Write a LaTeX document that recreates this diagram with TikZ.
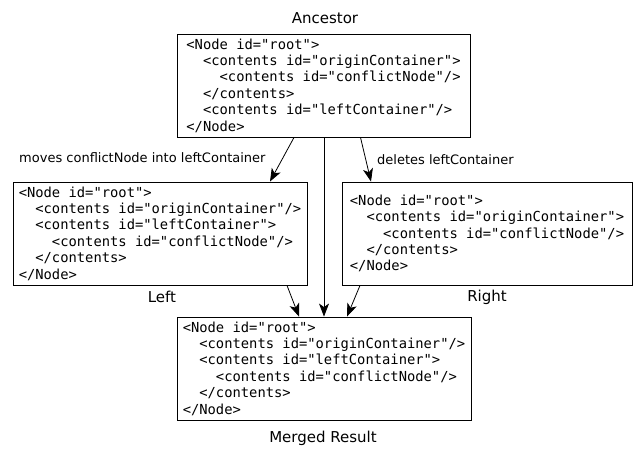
\documentclass[tikz,border=0pt]{standalone}
\usepackage{fontspec}
\setmainfont{DejaVu Sans}
\newfontfamily\codefont{DejaVu Sans Mono}
\usetikzlibrary{arrows.meta,calc}
\newcommand{\ind}{\phantom{xx}}
\begin{document}
\begin{tikzpicture}[x=1pt,y=1pt,
  codebox/.style={draw, line width=0.9pt, align=left, inner sep=0pt,
    minimum height=103pt,
    font=\codefont\fontsize{13.8}{16.4}\selectfont},
  title/.style={font=\fontsize{15}{18}\selectfont},
  elabel/.style={font=\fontsize{13}{16}\selectfont},
  arr/.style={-{Stealth[length=13pt,width=10pt,inset=3.5pt]}, line width=0.8pt}]
\useasboundingbox (0,0) rectangle (635,-448);

\node[codebox, minimum width=293pt] (anc) at (323.5,-85.5)
  {<Node id="root">\\
   \ind<contents id="originContainer">\\
   \ind\ind<contents id="conflictNode"/>\\
   \ind</contents>\\
   \ind<contents id="leftContainer"/>\\
   </Node>};
\node[codebox, minimum width=294pt] (left) at (160,-233.5)
  {<Node id="root">\\
   \ind<contents id="originContainer"/>\\
   \ind<contents id="leftContainer">\\
   \ind\ind<contents id="conflictNode"/>\\
   \ind</contents>\\
   </Node>};
\node[codebox, minimum width=290pt] (right) at (487,-233.5)
  {<Node id="root">\\
   \ind<contents id="originContainer">\\
   \ind\ind<contents id="conflictNode"/>\\
   \ind</contents>\\
   </Node>};
\node[codebox, minimum width=294pt] (merged) at (324,-368.5)
  {<Node id="root">\\
   \ind<contents id="originContainer"/>\\
   \ind<contents id="leftContainer">\\
   \ind\ind<contents id="conflictNode"/>\\
   \ind</contents>\\
   </Node>};

\node[title] (tanc) at (325,-18) {Ancestor};
\node[title] (tleft) at (162,-297) {Left};
\node[title] (tright) at (487,-297) {Right};
\node[title] (tmerged) at (323,-438) {Merged Result};

\node[elabel, anchor=west, inner sep=0pt] (lmove) at (19,-158) {moves conflictNode into leftContainer};
\node[elabel, anchor=west, inner sep=0pt] (ldel) at (377,-160) {deletes leftContainer};

\draw[arr] ([xshift=-29.5pt]anc.south) -- ([xshift=110pt]left.north);
\draw[arr] ([xshift=0.5pt]anc.south) -- (merged.north);
\draw[arr] ([xshift=37pt]anc.south) -- ([xshift=-116pt]right.north);
\draw[arr] ([xshift=127pt]left.south) -- ([xshift=-25pt]merged.north);
\draw[arr] ([xshift=-127pt]right.south) -- ([xshift=23pt]merged.north);
\end{tikzpicture}
\end{document}
